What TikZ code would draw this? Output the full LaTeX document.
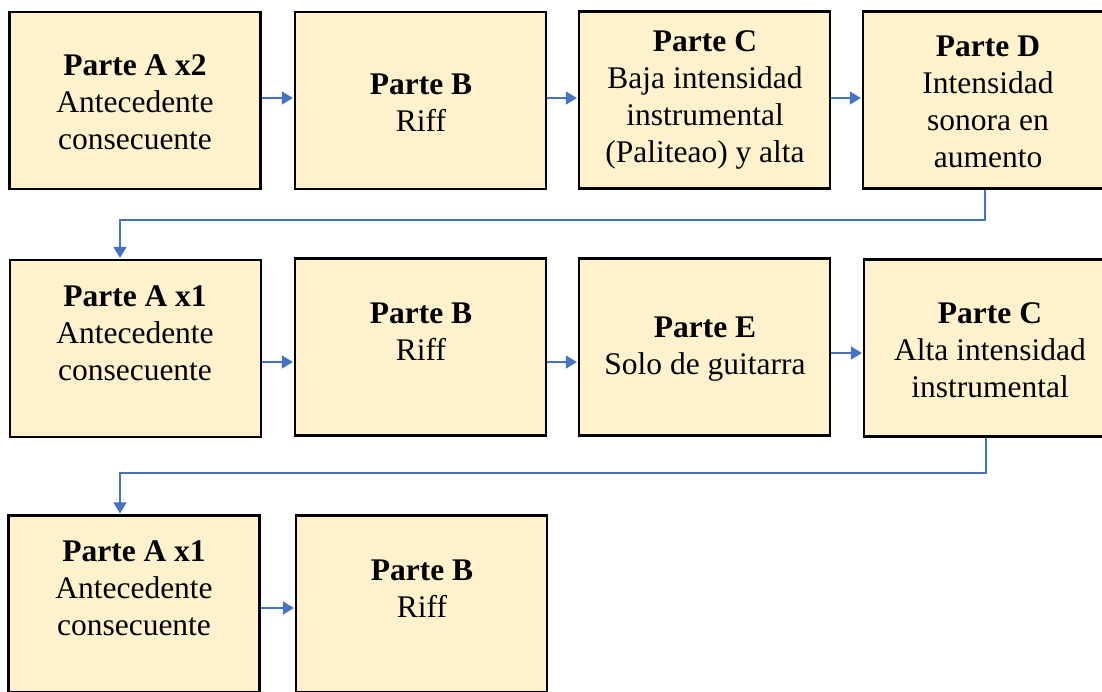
\documentclass[tikz,border=0pt]{standalone}
\usepackage{fontspec}
\setmainfont{Liberation Serif}
\usetikzlibrary{arrows.meta}
\definecolor{boxfill}{HTML}{FFF2CC}
\definecolor{flow}{HTML}{4472C4}
\begin{document}
\begin{tikzpicture}[x=1pt,y=-1pt,
  part/.style={draw=black, line width=2.3pt, fill=boxfill, inner sep=0pt,
               minimum width=251pt, minimum height=177pt},
  txt/.style={align=center, inner sep=0pt, font=\fontsize{31.5}{37}\selectfont},
  flowline/.style={draw=flow, line width=1.5pt, shorten >=1pt,
                   -{Triangle[length=11pt,width=13pt]}}]
\useasboundingbox (0,0) rectangle (1102,691);
\clip (0,0) rectangle (1102,691);

% boxes, row by row
\node[part] (b11) at (135,100.5) {};
\node[part] (b12) at (420.5,100.5) {};
\node[part] (b13) at (704.5,100) {};
\node[part] (b14) at (988.5,100) {};
\node[part] (b21) at (135.5,348.5) {};
\node[part] (b22) at (420.5,347) {};
\node[part] (b23) at (704.5,347) {};
\node[part] (b24) at (989.5,348) {};
\node[part] (b31) at (134,604) {};
\node[part] (b32) at (421.5,604) {};

% texts
\node[txt] (t11) at (135,102.5) {\textbf{Parte A x2}\\Antecedente\\consecuente};
\node[txt] (t12) at (421,102.5) {\textbf{Parte B}\\Riff};
\node[txt] (t13) at (705,100) {\textbf{Parte C}\\Baja intensidad\\instrumental\\(Paliteao) y alta};
\node[txt] (t14) at (988,101.5) {\textbf{Parte D}\\Intensidad\\sonora en\\aumento};
\node[txt] (t21) at (135,333.5) {\textbf{Parte A x1}\\Antecedente\\consecuente};
\node[txt] (t22) at (421,331.5) {\textbf{Parte B}\\Riff};
\node[txt] (t23) at (705,349.5) {\textbf{Parte E}\\Solo de guitarra};
\node[txt] (t24) at (990,350.5) {\textbf{Parte C}\\Alta intensidad\\instrumental};
\node[txt] (t31) at (134,588.5) {\textbf{Parte A x1}\\Antecedente\\consecuente};
\node[txt] (t32) at (422,588.5) {\textbf{Parte B}\\Riff};

% straight connectors within rows
\draw[flowline] ([yshift=2.5pt]b11.east) -- ([yshift=2.5pt]b11.east -| b12.west);
\draw[flowline] ([yshift=2.5pt]b12.east) -- ([yshift=2.5pt]b12.east -| b13.west);
\draw[flowline] ([yshift=2pt]b13.east) -- ([yshift=2pt]b13.east -| b14.west);
\draw[flowline] ([yshift=-13.5pt]b21.east) -- ([yshift=-13.5pt]b21.east -| b22.west);
\draw[flowline] ([yshift=-15pt]b22.east) -- ([yshift=-15pt]b22.east -| b23.west);
\draw[flowline] ([yshift=-6pt]b23.east) -- ([yshift=-6pt]b23.east -| b24.west);
\draw[flowline] ([yshift=-4pt]b31.east) -- ([yshift=-4pt]b31.east -| b32.west);

% elbow connectors between rows
\coordinate (c1) at (985,220);
\coordinate (c1r) at (120,220);
\draw[flowline] (b14.south -| c1) |- (c1r) -- (c1r |- b21.north);
\coordinate (c2) at (986,473);
\coordinate (c2r) at (120,473);
\draw[flowline] (b24.south -| c2) |- (c2r) -- (c2r |- b31.north);
\end{tikzpicture}
\end{document}
